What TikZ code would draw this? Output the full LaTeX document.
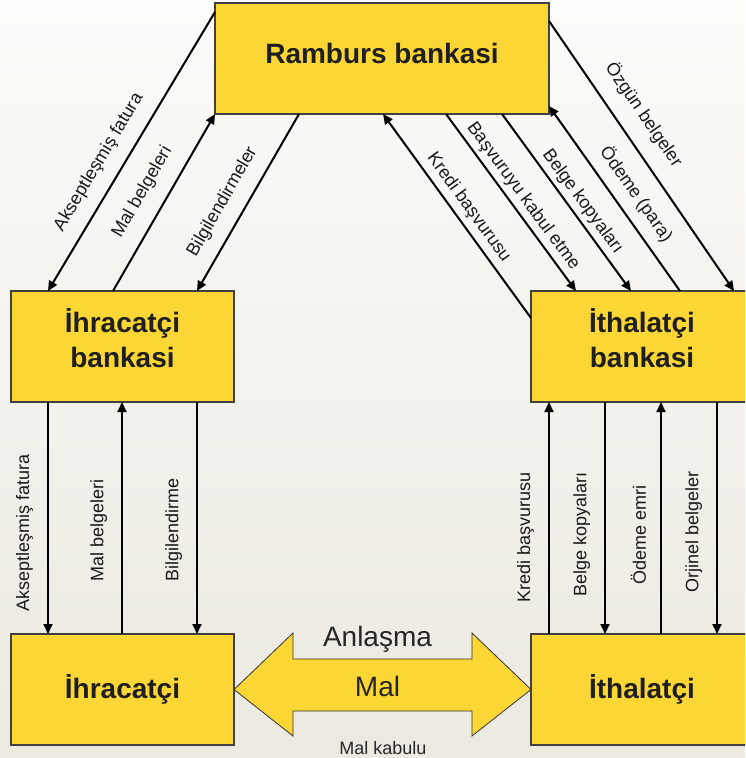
\documentclass[tikz,border=0pt]{standalone}
\usepackage{fontspec}
\setmainfont{Liberation Sans}
\usetikzlibrary{arrows.meta,positioning}
\definecolor{boxyellow}{RGB}{252,214,52}
\definecolor{bgtop}{RGB}{251,251,249}
\definecolor{bgbottom}{RGB}{235,233,224}
\newcommand{\lowstrut}{\rule[-17pt]{0pt}{0pt}}
\begin{document}
\begin{tikzpicture}[x=1pt,y=-1pt,>={Triangle[length=10pt,width=9pt]},
    bank/.style={draw=black!75,line width=1.2pt,fill=boxyellow,minimum width=223pt,minimum height=111pt,
        inner sep=0pt,outer sep=0pt,align=center,text=black!88,font=\fontsize{28}{35}\selectfont\bfseries},
    flow/.style={line width=2pt},
    lbl/.style={font=\fontsize{18}{18}\selectfont,inner sep=0pt,sloped,text=black!90}]
    \clip (0,0) rectangle (745,758);
    \shade[top color=bgtop,bottom color=bgbottom] (0,0) rectangle (745,758);

    \node[bank,minimum width=334pt,text depth=10.8pt] (ramburs) at (382,58.5) {Ramburs bankasi};
    \node[bank] (ihrbank) at (122.5,346.5) {İhracatçi\\bankasi\lowstrut};
    \node[bank,minimum width=222pt] (ithbank) at (642,346.5) {İthalatçi\\bankasi\lowstrut};
    \node[bank] (ihr) at (122.5,689.5) {İhracatçi};
    \node[bank,minimum width=222pt] (ith) at (642,689.5) {İthalatçi};

    \draw[->,flow] ([yshift=-9pt]ramburs.north west) -- ([xshift=37pt]ihrbank.north west) node[lbl,pos=0.58,above=13pt]{Akseptleşmiş fatura};
    \draw[->,flow] ([xshift=102pt]ihrbank.north west) -- (ramburs.south west) node[lbl,pos=0.49,above=14.5pt]{Mal belgeleri};
    \draw[->,flow] ([xshift=84pt]ramburs.south west) -- ([xshift=186pt]ihrbank.north west) node[lbl,pos=0.56,above=13pt]{Bilgilendirmeler};

    \draw[->,flow] ([yshift=-27pt]ithbank.north west) -- ([xshift=168pt]ramburs.south west) node[lbl,pos=0.5,above=5pt]{Kredi başvurusu};
    \draw[->,flow] ([xshift=231pt]ramburs.south west) -- ([xshift=45pt]ithbank.north west) node[lbl,pos=0.51,above=4pt]{Başvuruyu kabul etme};
    \draw[->,flow] ([xshift=287pt]ramburs.south west) -- ([xshift=100pt]ithbank.north west) node[lbl,pos=0.54,above=4pt]{Belge kopyaları};
    \draw[->,flow] ([xshift=149pt]ithbank.north west) -- ([yshift=8pt]ramburs.south east) node[lbl,pos=0.46,above=10pt]{Ödeme (para)};
    \draw[->,flow] ([yshift=-18pt]ramburs.north east) -- ([xshift=203pt]ithbank.north west) node[lbl,pos=0.4,above=15pt]{Özgün belgeler};

    \draw[<-,flow] ([xshift=37pt]ihr.north west) -- ([xshift=37pt]ihrbank.south west) node[lbl,pos=0.435,above=14pt]{Akseptleşmiş fatura};
    \draw[->,flow] ([xshift=111pt]ihr.north west) -- ([xshift=111pt]ihrbank.south west) node[lbl,pos=0.448,above=14pt]{Mal belgeleri};
    \draw[<-,flow] ([xshift=186pt]ihr.north west) -- ([xshift=186pt]ihrbank.south west) node[lbl,pos=0.448,above=14pt]{Bilgilendirme};

    \draw[->,flow] ([xshift=18pt]ith.north west) -- ([xshift=18pt]ithbank.south west) node[lbl,pos=0.418,above=14pt]{Kredi başvurusu};
    \draw[<-,flow] ([xshift=74pt]ith.north west) -- ([xshift=74pt]ithbank.south west) node[lbl,pos=0.427,above=14pt]{Belge kopyaları};
    \draw[->,flow] ([xshift=130pt]ith.north west) -- ([xshift=130pt]ithbank.south west) node[lbl,pos=0.427,above=14pt]{Ödeme emri};
    \draw[<-,flow] ([xshift=186pt]ith.north west) -- ([xshift=186pt]ithbank.south west) node[lbl,pos=0.44,above=14pt]{Orjinel belgeler};

    \draw[fill=boxyellow,draw=black!80,line width=0.8pt] (ihr.east) -- (293,633) -- (293,659) -- (472,659) -- (472,633)
        -- (ith.west) -- (472,736) -- (472,711) -- (293,711) -- (293,736) -- cycle;
    \node[anchor=base,font=\fontsize{28}{28}\selectfont,text=black!85] (deal) at (377.5,646) {Anlaşma};
    \node[anchor=base,font=\fontsize{28}{28}\selectfont,text=black!85] (goods) at (377.5,696.5) {Mal};
    \node[anchor=base,font=\fontsize{18}{18}\selectfont,text=black!85] (accept) at (383,754.5) {Mal kabulu};
\end{tikzpicture}
\end{document}
